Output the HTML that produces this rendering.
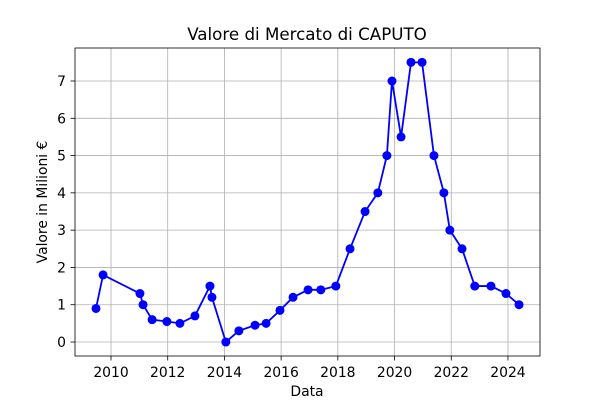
<!DOCTYPE html>
<html><head><meta charset="utf-8"><style>
body{margin:0;background:#fff;font-family:"Liberation Sans","DejaVu Sans",sans-serif}
svg text{font-family:"DejaVu Sans","Liberation Sans",sans-serif}
</style></head><body>
<svg id="chart" width="600" height="400">
<rect x="0" y="0" width="600" height="400" fill="#fff"/>
<g id="grid"></g><g id="series"></g><g id="axes"></g>
<text x="307" y="40" text-anchor="middle" font-size="16.7" fill="#000">Valore di Mercato di CAPUTO</text>
<text x="307" y="396" text-anchor="middle" font-size="13.9" fill="#000">Data</text>
<text transform="translate(47,202) rotate(-90)" text-anchor="middle" font-size="13.9" fill="#000">Valore in Milioni €</text>
</svg>
<script>
const years=[2009.47,2009.72,2011.02,2011.13,2011.45,2011.97,2012.43,2012.96,2013.49,2013.56,2014.05,2014.51,2015.08,2015.47,2015.96,2016.42,2016.95,2017.40,2017.93,2018.43,2018.96,2019.41,2019.73,2019.91,2020.23,2020.58,2020.97,2021.39,2021.74,2021.95,2022.38,2022.83,2023.40,2023.93,2024.39];
const values=[0.9,1.8,1.3,1.0,0.6,0.55,0.5,0.7,1.5,1.2,0,0.3,0.45,0.5,0.85,1.2,1.4,1.4,1.5,2.5,3.5,4,5,7,5.5,7.5,7.5,5,4,3,2.5,1.5,1.5,1.3,1.0];
const xTicks=[2010,2012,2014,2016,2018,2020,2022,2024];
const yTicks=[0,1,2,3,4,5,6,7];
const L=75,R=540,T=48,B=356;
const xMin=2008.73,xMax=2025.13,yMin=-0.375,yMax=7.885;
const sx=v=>L+(v-xMin)/(xMax-xMin)*(R-L);
const sy=v=>B-(v-yMin)/(yMax-yMin)*(B-T);
const NS="http://www.w3.org/2000/svg";
function mk(tag,attrs,parent){const e=document.createElementNS(NS,tag);for(const k in attrs)e.setAttribute(k,attrs[k]);parent.appendChild(e);return e;}
const grid=document.getElementById('grid'),axes=document.getElementById('axes'),series=document.getElementById('series');
xTicks.forEach(t=>{const x=sx(t);
 const g=mk('line',{x1:x,x2:x,y1:T,y2:B,stroke:'#b0b0b0','stroke-width':0.8},grid);
 
 
 mk('line',{x1:x,x2:x,y1:B,y2:B+4.5,stroke:'#000','stroke-width':0.8},axes);
 const tx=mk('text',{x:x,y:B+21,'text-anchor':'middle','font-size':13.9,fill:'#000'},axes);tx.textContent=t;
 
 
});
yTicks.forEach(t=>{const y=sy(t);
 const g=mk('line',{x1:L,x2:R,y1:y,y2:y,stroke:'#b0b0b0','stroke-width':0.8},grid);
 
 
 mk('line',{x1:L-4.5,x2:L,y1:y,y2:y,stroke:'#000','stroke-width':0.8},axes);
 const tx=mk('text',{x:L-9,y:y+5,'text-anchor':'end','font-size':13.9,fill:'#000'},axes);tx.textContent=t;
 
 
});
const frame=mk('rect',{x:L,y:T,width:R-L,height:B-T,fill:'none',stroke:'#000','stroke-width':0.8},axes);


const pts=years.map((y,i)=>sx(y)+','+sy(values[i])).join(' ');
const line=mk('polyline',{points:pts,fill:'none',stroke:'#0000ff','stroke-width':1.8},series);


years.forEach((y,i)=>{const c=mk('circle',{cx:sx(y),cy:sy(values[i]),r:4.5,fill:'#0000ff'},series);
 
 
});
</script>
</body></html>
